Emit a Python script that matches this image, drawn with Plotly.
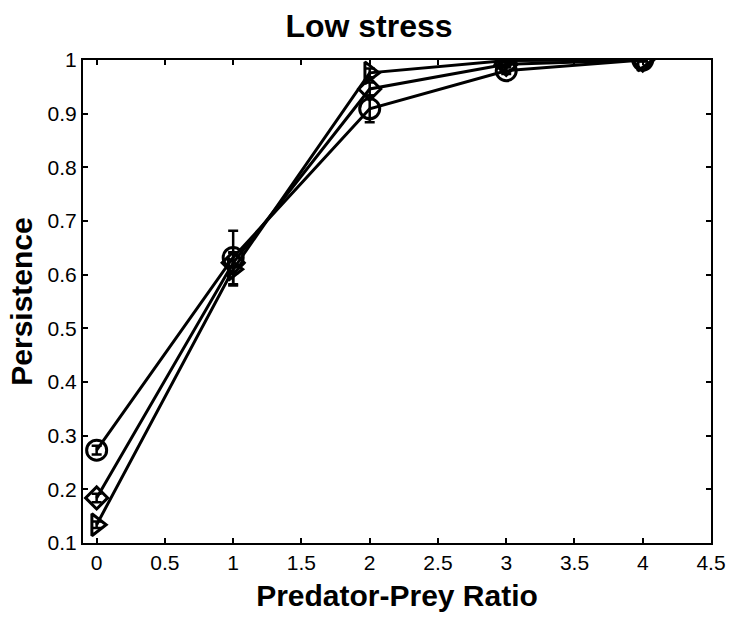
import plotly.graph_objects as go

# Data
ratio = [0, 1, 2, 3, 4]
circle_vals = [0.273, 0.632, 0.909, 0.980, 1.0]
circle_err = [0.008, 0.05, 0.025, 0.006, 0.003]
diamond_vals = [0.184, 0.622, 0.946, 0.992, 1.0]
diamond_err = [0.008, 0.02, 0.012, 0.004, 0.002]
triangle_vals = [0.134, 0.610, 0.976, 0.999, 1.0]
triangle_err = [0.006, 0.03, 0.008, 0.002, 0.002]

x_ticks = [0, 0.5, 1, 1.5, 2, 2.5, 3, 3.5, 4, 4.5]
x_ticktext = ["0", "0.5", "1", "1.5", "2", "2.5", "3", "3.5", "4", "4.5"]
y_ticks = [0.1, 0.2, 0.3, 0.4, 0.5, 0.6, 0.7, 0.8, 0.9, 1.0]
y_ticktext = ["0.1", "0.2", "0.3", "0.4", "0.5", "0.6", "0.7", "0.8", "0.9", "1"]

FONT = "Liberation Sans, Arial, Helvetica, sans-serif"

series = [
    ("circle", circle_vals, circle_err, "circle-open", 20),
    ("diamond", diamond_vals, diamond_err, "diamond-open", 17),
    ("triangle", triangle_vals, triangle_err, "triangle-right-open", 19),
]

fig = go.Figure()
for name, vals, err, sym, size in series:
    fig.add_trace(go.Scatter(
        x=ratio, y=vals, name=name, mode="lines+markers",
        line=dict(color="black", width=3),
        marker=dict(symbol=sym, size=size, color="black",
                    line=dict(color="black", width=3)),
        error_y=dict(type="data", array=err, visible=True,
                     color="black", thickness=2.5, width=5),
        showlegend=False,
    ))

fig.update_layout(
    width=738, height=620,
    margin=dict(l=83, r=20, t=60, b=77),
    paper_bgcolor="white", plot_bgcolor="white",
    font=dict(family=FONT, color="black", size=21),
    title=dict(text="<b>Low stress</b>", x=0.5, xanchor="center",
               y=1 - 26 / 620, yanchor="middle",
               font=dict(family=FONT, size=32, color="black")),
)
fig.update_xaxes(
    range=[-0.1, 4.5], tickvals=x_ticks, ticktext=x_ticktext,
    showgrid=False, zeroline=False,
    showline=True, linecolor="black", linewidth=2, mirror="ticks",
    ticks="inside", ticklen=5, tickwidth=1.5, tickcolor="black",
    tickfont=dict(size=21, family=FONT),
    title=dict(text="<b>Predator-Prey Ratio</b>", standoff=12,
               font=dict(size=30, family=FONT)),
)
fig.update_yaxes(
    range=[0.1, 1.0], tickvals=y_ticks, ticktext=y_ticktext,
    showgrid=False, zeroline=False,
    showline=True, linecolor="black", linewidth=2, mirror="ticks",
    ticks="inside", ticklen=5, tickwidth=1.5, tickcolor="black",
    tickfont=dict(size=21, family=FONT),
    title=dict(text="<b>Persistence</b>", standoff=6,
               font=dict(size=30, family=FONT)),
)

fig.write_html("out.html")
